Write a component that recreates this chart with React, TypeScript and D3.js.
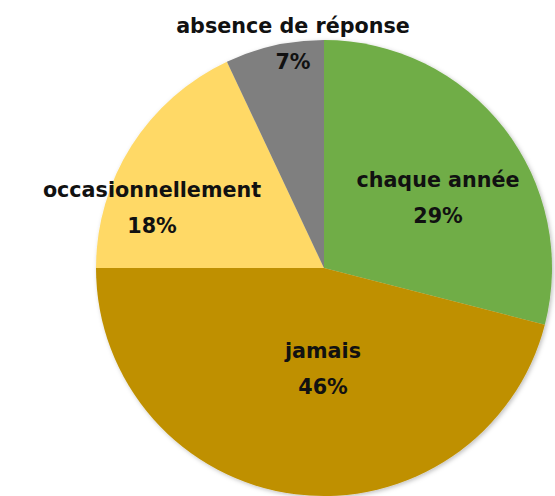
import React from "react";
import * as d3 from "d3";

const categories = ["chaque année", "jamais", "occasionnellement", "absence de réponse"];
const values = [29, 46, 18, 7];
const colors = ["#70AD47", "#BF9000", "#FFD966", "#7F7F7F"];
const labelPos = [
  [438, 187],
  [323, 358],
  [152, 197],
  [293, 33],
];

const W = 555;
const H = 496;
const cx = 324;
const cy = 268;
const R = 228;

export default function App() {
  const pie = d3.pie<number>().sort(null).value((d) => d)(values);
  const arc = d3.arc<d3.PieArcDatum<number>>().innerRadius(0).outerRadius(R);
  return (
    <svg width={W} height={H} style={{ position: "absolute", left: 0, top: 0, background: "#fff" }}>
      <defs>
        <filter id="sh" x="-10%" y="-10%" width="120%" height="120%">
          <feDropShadow dx="1.5" dy="1.5" stdDeviation="2" floodColor="#000" floodOpacity="0.25" />
        </filter>
      </defs>
      <g transform={`translate(${cx},${cy})`} filter="url(#sh)">
        {pie.map((p, i) => (
          <path key={i} d={arc(p) || ""} fill={colors[i]} />
        ))}
      </g>
      {categories.map((c, i) => (
        <text
          key={c}
          x={labelPos[i][0]}
          y={labelPos[i][1]}
          textAnchor="middle"
          fontFamily="DejaVu Sans"
          fontWeight="bold"
          fontSize={20.7}
          fill="#111"
        >
          <tspan x={labelPos[i][0]}>{c}</tspan>
          <tspan x={labelPos[i][0]} dy={35.5}>{values[i]}%</tspan>
        </text>
      ))}
    </svg>
  );
}
